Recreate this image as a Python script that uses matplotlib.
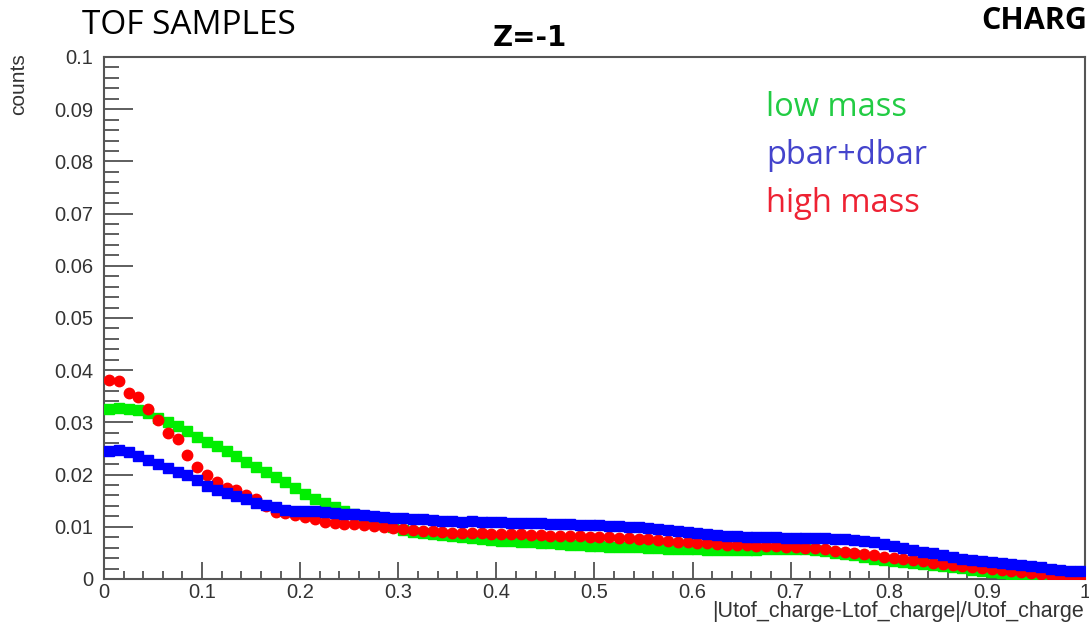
#!/usr/bin/env python3
## TOF charge asymmetry for the Z=-1 samples
import numpy as np
import matplotlib
matplotlib.use("Agg")
import matplotlib.pyplot as plt
from matplotlib.ticker import MultipleLocator

plt.rcParams["font.family"] = "Liberation Sans"

# bin centres, 100 bins on [0,1]
nbins = 100
edges = np.linspace(0, 1, nbins + 1)
centers = 0.5 * (edges[:-1] + edges[1:])

low_mass = [
    0.0325, 0.0327, 0.0326, 0.0324, 0.0318, 0.0308, 0.0300, 0.0293, 0.0284, 0.0272,
    0.0262, 0.0254, 0.0245, 0.0236, 0.0224, 0.0215, 0.0205, 0.0196, 0.0186, 0.0175,
    0.0163, 0.0153, 0.0145, 0.0138, 0.0130, 0.0125, 0.0118, 0.0112, 0.0106, 0.0100,
    0.0094, 0.0090, 0.0088, 0.0086, 0.0084, 0.0082, 0.0080, 0.0079, 0.0077, 0.0075,
    0.0073, 0.0072, 0.0071, 0.0070, 0.0069, 0.0068, 0.0067, 0.0066, 0.0065, 0.0064,
    0.0063, 0.0062, 0.0062, 0.0061, 0.0061, 0.0060, 0.0059, 0.0058, 0.0058, 0.0057,
    0.0057, 0.0056, 0.0056, 0.0055, 0.0055, 0.0055, 0.0056, 0.0057, 0.0058, 0.0058,
    0.0058, 0.0057, 0.0055, 0.0053, 0.0050, 0.0047, 0.0045, 0.0042, 0.0039, 0.0037,
    0.0035, 0.0033, 0.0031, 0.0029, 0.0027, 0.0025, 0.0023, 0.0021, 0.0018, 0.0016,
    0.0014, 0.0012, 0.0010, 0.0008, 0.0006, 0.0005, 0.0004, 0.0003, 0.0002, 0.0001,
]

pbar_dbar = [
    0.0246, 0.0247, 0.0243, 0.0236, 0.0228, 0.0221, 0.0213, 0.0205, 0.0199, 0.0189,
    0.0179, 0.0171, 0.0165, 0.0158, 0.0153, 0.0146, 0.0141, 0.0137, 0.0133, 0.0131,
    0.0131, 0.0130, 0.0128, 0.0126, 0.0125, 0.0124, 0.0122, 0.0121, 0.0119, 0.0117,
    0.0116, 0.0115, 0.0114, 0.0113, 0.0112, 0.0111, 0.0110, 0.0111, 0.0110, 0.0109,
    0.0109, 0.0108, 0.0108, 0.0107, 0.0107, 0.0106, 0.0105, 0.0105, 0.0104, 0.0104,
    0.0104, 0.0102, 0.0101, 0.0100, 0.0099, 0.0097, 0.0096, 0.0094, 0.0092, 0.0090,
    0.0088, 0.0086, 0.0084, 0.0083, 0.0082, 0.0081, 0.0080, 0.0080, 0.0080, 0.0079,
    0.0079, 0.0078, 0.0078, 0.0078, 0.0077, 0.0077, 0.0075, 0.0073, 0.0070, 0.0067,
    0.0064, 0.0060, 0.0056, 0.0052, 0.0049, 0.0046, 0.0042, 0.0039, 0.0036, 0.0034,
    0.0032, 0.0030, 0.0028, 0.0026, 0.0024, 0.0022, 0.0020, 0.0018, 0.0016, 0.0015,
]

high_mass = [
    0.0381, 0.0379, 0.0356, 0.0348, 0.0325, 0.0305, 0.0280, 0.0268, 0.0238, 0.0214,
    0.0199, 0.0186, 0.0174, 0.0171, 0.0160, 0.0153, 0.0139, 0.0129, 0.0126, 0.0123,
    0.0119, 0.0114, 0.0110, 0.0107, 0.0106, 0.0105, 0.0103, 0.0101, 0.0099, 0.0097,
    0.0095, 0.0093, 0.0092, 0.0091, 0.0090, 0.0089, 0.0088, 0.0089, 0.0088, 0.0087,
    0.0087, 0.0086, 0.0086, 0.0085, 0.0084, 0.0083, 0.0083, 0.0082, 0.0082, 0.0081,
    0.0081, 0.0080, 0.0079, 0.0078, 0.0077, 0.0076, 0.0074, 0.0073, 0.0071, 0.0070,
    0.0069, 0.0068, 0.0067, 0.0066, 0.0066, 0.0065, 0.0064, 0.0064, 0.0063, 0.0062,
    0.0062, 0.0060, 0.0059, 0.0057, 0.0054, 0.0052, 0.0050, 0.0048, 0.0046, 0.0043,
    0.0041, 0.0039, 0.0037, 0.0034, 0.0031, 0.0029, 0.0027, 0.0025, 0.0023, 0.0021,
    0.0019, 0.0017, 0.0015, 0.0013, 0.0011, 0.0009, 0.0007, 0.0006, 0.0004, 0.0003,
]

legend_labels = ["low mass", "pbar+dbar", "high mass"]
legend_colors = ["#22cc44", "#4444cc", "#ee2233"]

yticks = [0, 0.01, 0.02, 0.03, 0.04, 0.05, 0.06, 0.07, 0.08, 0.09, 0.1]
ytick_labels = ["0", "0.01", "0.02", "0.03", "0.04", "0.05", "0.06", "0.07", "0.08", "0.09", "0.1"]
xticks = [0, 0.1, 0.2, 0.3, 0.4, 0.5, 0.6, 0.7, 0.8, 0.9, 1]
xtick_labels = ["0", "0.1", "0.2", "0.3", "0.4", "0.5", "0.6", "0.7", "0.8", "0.9", "1"]

fig = plt.figure(figsize=(10.89, 6.27), dpi=100)
ax = fig.add_axes([0.0955, 0.0766, 0.9008, 0.8325])

ax.plot(centers, low_mass, ls="none", marker="s", ms=7.5, color="#00ee00", zorder=3)
ax.plot(centers, high_mass, ls="none", marker="o", ms=7.5, color="#ff0000", zorder=4)
ax.plot(centers, pbar_dbar, ls="none", marker="s", ms=7.5, color="#0000ff", zorder=5)

ax.set_xlim(0, 1)
ax.set_ylim(0, 0.1)
ax.set_xticks(xticks)
ax.set_xticklabels(xtick_labels)
ax.set_yticks(yticks)
ax.set_yticklabels(ytick_labels)
ax.xaxis.set_minor_locator(MultipleLocator(0.02))
ax.yaxis.set_minor_locator(MultipleLocator(0.002))
ax.tick_params(axis="y", which="major", direction="in", length=21, width=1.1,
               color="#333333", labelsize=14.5, labelcolor="#333333", pad=8)
ax.tick_params(axis="y", which="minor", direction="in", length=11, width=1.1, color="#333333")
ax.tick_params(axis="x", which="major", direction="in", length=12, width=1.1,
               color="#333333", labelsize=14.5, labelcolor="#333333", pad=3)
ax.tick_params(axis="x", which="minor", direction="in", length=6, width=1.1, color="#333333")
for sp in ax.spines.values():
    sp.set_color("#555555")
    sp.set_linewidth(1.5)

ax.set_xlabel("|Utof_charge-Ltof_charge|/Utof_charge", fontsize=15.5, color="#333333")
ax.xaxis.set_label_coords(0.9985, -0.042)
ax.xaxis.label.set_horizontalalignment("right")
ax.xaxis.label.set_verticalalignment("top")
fig.text(19 / 1089, 1 - 53 / 627, "counts", rotation=90, ha="center", va="top",
         fontsize=15, color="#333333")

# legend drawn as coloured text
for i, (lab, col) in enumerate(zip(legend_labels, legend_colors)):
    fig.text(766 / 1089, 1 - (107 + 48 * i) / 627, lab, color=col, fontsize=23.5,
             family="Open Sans", ha="left", va="center")

fig.text(82 / 1089, 1 - 25 / 627, "TOF SAMPLES", fontsize=24, family="Open Sans",
         ha="left", va="center")
fig.text(530 / 1089, 1 - 38 / 627, "Z=-1", fontsize=20, family="DejaVu Sans",
         weight="bold", ha="center", va="center")
fig.text(1087 / 1089, 1 - 21 / 627, "CHARG", fontsize=22, family="Open Sans",
         weight="bold", ha="right", va="center")

fig.savefig("out.png", dpi=100)
